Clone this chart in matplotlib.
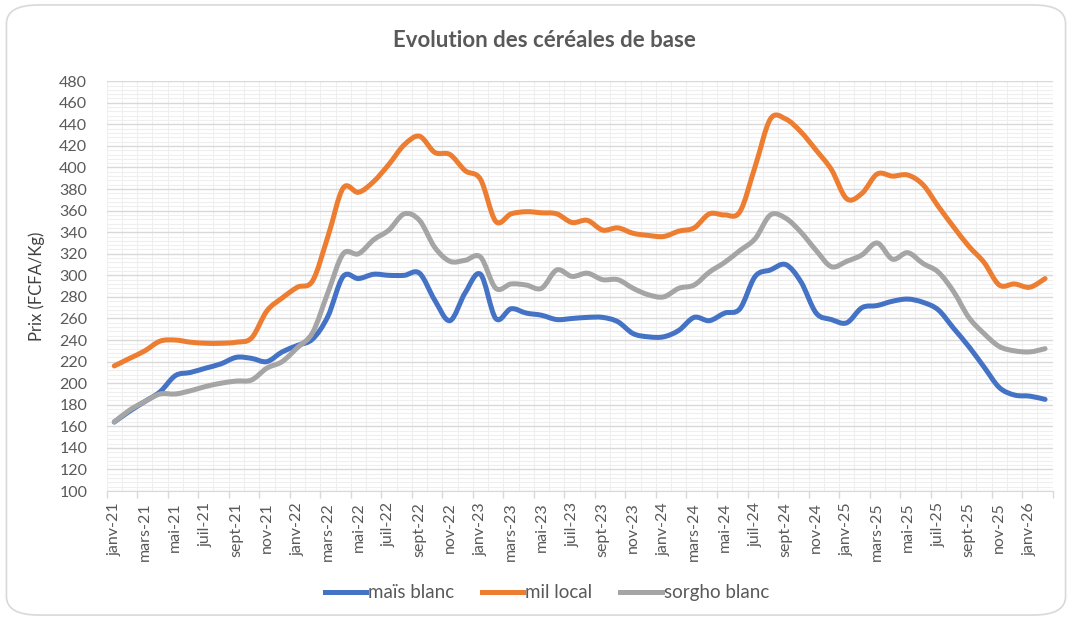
import numpy as np
import matplotlib
matplotlib.use("Agg")
import matplotlib.pyplot as plt
from matplotlib.path import Path
from matplotlib.patches import PathPatch, FancyBboxPatch
from matplotlib.lines import Line2D

plt.rcParams['font.family'] = ['Lato', 'DejaVu Sans']

# Monthly prices, janv-21 .. févr-26 (FCFA/Kg)
month_names = ["janv", "févr", "mars", "avr", "mai", "juin",
               "juil", "août", "sept", "oct", "nov", "déc"]
months = [f"{month_names[i % 12]}-{21 + i // 12}" for i in range(62)]

mais_blanc = [164, 174, 183, 192, 207, 210, 214, 218, 224, 223, 220, 229,
              235, 241, 262, 299, 297, 301, 300, 300, 302, 277, 258, 284,
              301, 260, 269, 265, 263, 259, 260, 261, 261, 257, 246, 243,
              243, 249, 261, 258, 265, 269, 299, 305, 310, 294, 265, 259,
              256, 270, 272, 276, 278, 275, 268, 251, 234, 215, 196, 189,
              188, 185]
mil_local = [216, 223, 230, 239, 240, 238, 237, 237, 238, 242, 267, 279,
             289, 295, 336, 381, 377, 387, 403, 421, 429, 414, 412, 397,
             389, 350, 357, 359, 358, 357, 349, 351, 342, 344, 339, 337,
             336, 341, 344, 357, 356, 359, 401, 445, 445, 433, 416, 398,
             371, 376, 394, 392, 393, 384, 364, 345, 327, 312, 291, 292,
             289, 297]
sorgho_blanc = [164, 175, 183, 190, 190, 193, 197, 200, 202, 203, 214, 220,
                233, 247, 284, 320, 320, 333, 342, 357, 351, 326, 313, 314,
                317, 288, 292, 291, 288, 305, 299, 302, 296, 296, 288, 282,
                280, 288, 291, 303, 312, 323, 334, 356, 353, 340, 323, 308,
                313, 319, 330, 315, 321, 311, 303, 285, 261, 246, 234, 230,
                229, 232]

series = [("maïs blanc", mais_blanc, "#4472C4"),
          ("mil local", mil_local, "#ED7D31"),
          ("sorgho blanc", sorgho_blanc, "#A5A5A5")]


def smooth_path(xs, ys):
    # Excel-like smoothed line: cubic Bezier segments through the points
    pts = np.column_stack([xs, ys]).astype(float)
    n = len(pts)
    verts = [pts[0]]
    codes = [Path.MOVETO]
    for i in range(n - 1):
        p0 = pts[i - 1] if i > 0 else pts[i]
        p1, p2 = pts[i], pts[i + 1]
        p3 = pts[i + 2] if i + 2 < n else pts[i + 1]
        verts += [p1 + (p2 - p0) / 6, p2 - (p3 - p1) / 6, p2]
        codes += [Path.CURVE4] * 3
    return Path(verts, codes)


fig = plt.figure(figsize=(10.72, 6.2), dpi=100)
fig.patches.append(FancyBboxPatch((0.006, 0.008), 0.988, 0.984,
                                  boxstyle="round,pad=0,rounding_size=0.03",
                                  transform=fig.transFigure, facecolor="white",
                                  edgecolor="#d9d9d9", lw=1.2, zorder=-5))
ax = fig.add_axes([0.0995, 0.208, 0.8825, 0.661])
ax.set_facecolor("none")

x = np.arange(len(months))
for name, vals, color in series:
    ax.add_patch(PathPatch(smooth_path(x, vals), facecolor="none",
                           edgecolor=color, lw=3.6, capstyle="round",
                           joinstyle="round", zorder=3))

ax.set_xlim(-0.5, len(months) - 0.5)
ax.set_ylim(100, 480)

# y grid: major every 20, minor every 4
ax.set_yticks(np.arange(100, 481, 20))
ax.set_yticks(np.arange(100, 481, 4), minor=True)
ax.grid(axis="y", which="major", color="#d9d9d9", lw=1.0, zorder=1)
ax.grid(axis="y", which="minor", color="#efefef", lw=0.8, zorder=0)
# x grid at each category boundary
for b in np.arange(-0.5, len(months), 1):
    ax.axvline(b, color="#efefef", lw=0.8, zorder=0)

ax.set_xticks(x[::2])
ax.set_xticklabels(months[::2], rotation=90, fontsize=11.5, color="#595959")
ax.set_xticks(np.arange(-0.5, len(months), 2), minor=True)
ax.tick_params(axis="x", which="major", length=0, pad=8)
ax.tick_params(axis="x", which="minor", length=5, color="#d9d9d9", width=1)
ax.tick_params(axis="y", which="both", length=0, labelsize=11.5,
               labelcolor="#595959", pad=14)

for s in ["top", "right", "left"]:
    ax.spines[s].set_visible(False)
ax.spines["bottom"].set_color("#d9d9d9")

ax.set_ylabel("Prix (FCFA/Kg)", fontsize=12, color="#404040", labelpad=10)
fig.text(0.508, 0.935, "Evolution des céréales de base", ha="center",
         va="center", fontsize=16, fontweight="bold", color="#595959")

handles = [Line2D([], [], color=c, lw=3.6) for _, _, c in series]
fig.legend(handles, [n for n, _, _ in series], loc="center",
           bbox_to_anchor=(0.51, 0.044), ncol=3, frameon=False,
           fontsize=13.5, handlelength=2.2, handletextpad=0.1,
           columnspacing=1.5, labelcolor="#595959")

fig.savefig("out.png", dpi=100)
